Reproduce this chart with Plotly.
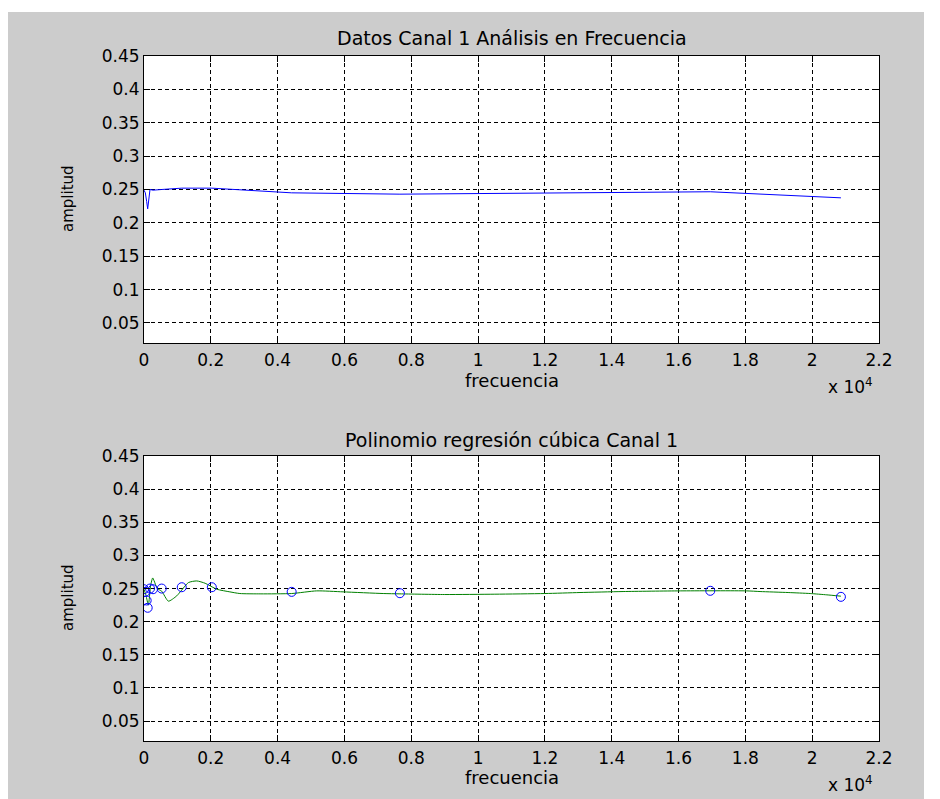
import plotly.graph_objects as go
from plotly.subplots import make_subplots

# measured data points (frequency in Hz, amplitude)
freq = [0, 40, 80, 110, 180, 270, 530, 1130, 2030, 4420, 7660, 16950, 20860]
amp = [0.249, 0.245, 0.232, 0.221, 0.250, 0.249, 0.250, 0.252, 0.252, 0.245, 0.243, 0.2466, 0.2375]

# cubic regression curve
fit_freq = [0, 60, 130, 200, 260, 300, 400, 530, 730, 980, 1330, 1580, 1830, 2180, 2570,
            2870, 3500, 4420, 5170, 5960, 7160, 7660, 9000, 10500, 12000, 13050, 14340,
            16050, 18040, 18440, 19280, 19940, 20440, 20860]
fit_amp = [0.249, 0.240, 0.225, 0.255, 0.266, 0.262, 0.250, 0.246, 0.231, 0.239, 0.259, 0.2615,
           0.258, 0.249, 0.245, 0.2425, 0.242, 0.2425, 0.2465, 0.245, 0.2425, 0.242, 0.241,
           0.2415, 0.2425, 0.244, 0.2455, 0.2465, 0.2465, 0.2455, 0.244, 0.2425, 0.2405, 0.2385]

x_tickvals = [0, 2000, 4000, 6000, 8000, 10000, 12000, 14000, 16000, 18000, 20000, 22000]
x_ticktext = ["0", "0.2", "0.4", "0.6", "0.8", "1", "1.2", "1.4", "1.6", "1.8", "2", "2.2"]
y_tickvals = [0.05, 0.1, 0.15, 0.2, 0.25, 0.3, 0.35, 0.4, 0.45]
y_ticktext = ["0.05", "0.1", "0.15", "0.2", "0.25", "0.3", "0.35", "0.4", "0.45"]

OFF = 8                      # page body margin
W, H = 916, 791              # figure size
L, R, T, B = 136, 45, 48, 58
pw, ph = W - L - R, H - T - B

def px_x(p):                 # page pixel -> paper x
    return (p - OFF - L) / pw

def px_y(p):                 # page pixel -> paper y
    return (H - B - (p - OFF)) / ph

fig = make_subplots(rows=2, cols=1)
fig.update_layout(
    yaxis=dict(domain=[px_y(343), 1.0]),
    yaxis2=dict(domain=[0.0, px_y(456)]),
)

fig.add_trace(go.Scatter(x=freq, y=amp, mode="lines",
                         line=dict(color="#0000ff", width=1), showlegend=False), row=1, col=1)
fig.add_trace(go.Scatter(x=fit_freq, y=fit_amp, mode="lines",
                         line=dict(color="#008000", width=1, shape="spline", smoothing=0.6),
                         showlegend=False), row=2, col=1)
fig.add_trace(go.Scatter(x=freq, y=amp, mode="markers",
                         marker=dict(symbol="circle-open", size=9, color="#0000ff",
                                     line=dict(width=1, color="#0000ff")),
                         showlegend=False), row=2, col=1)

font = "DejaVu Sans, Arial, sans-serif"
axis_common = dict(
    showline=True, linecolor="black", linewidth=1, mirror="ticks",
    ticks="inside", ticklen=6, tickcolor="black", tickwidth=1,
    showgrid=True, gridcolor="black", gridwidth=1, griddash="4px,3px",
    zeroline=False, tickfont=dict(family=font, size=17, color="black"),
)
for r in (1, 2):
    fig.update_xaxes(range=[0, 22000], tickvals=x_tickvals, ticktext=x_ticktext,
                     ticklabelstandoff=2, row=r, col=1, **axis_common)
    fig.update_yaxes(range=[0.02, 0.45], tickvals=y_tickvals, ticktext=y_ticktext,
                     row=r, col=1, **axis_common)

annotations = []
for text, ypx in (("Datos Canal 1 Análisis en Frecuencia", 38),
                  ("Polinomio regresión cúbica Canal 1", 440)):
    annotations.append(dict(text=text, x=0.5, y=px_y(ypx), xref="paper", yref="paper",
                            showarrow=False, xanchor="center", yanchor="middle",
                            font=dict(family=font, size=19, color="black")))
for ypx in (380, 778):
    annotations.append(dict(text="frecuencia", x=0.5, y=px_y(ypx), xref="paper", yref="paper",
                            showarrow=False, xanchor="center", yanchor="middle",
                            font=dict(family=font, size=18, color="black")))
for ypx in (199, 598):
    annotations.append(dict(text="amplitud", x=px_x(68), y=px_y(ypx), xref="paper", yref="paper",
                            showarrow=False, xanchor="center", yanchor="middle", textangle=-90,
                            font=dict(family=font, size=15, color="black")))
for ypx in (386, 784):
    annotations.append(dict(text="x 10<sup>4</sup>", x=px_x(826), y=px_y(ypx), xref="paper",
                            yref="paper", showarrow=False, xanchor="left", yanchor="middle",
                            font=dict(family=font, size=17, color="black")))

shapes = [
    dict(type="rect", xref="paper", yref="paper", x0=px_x(0), x1=px_x(960),
         y0=px_y(12), y1=px_y(0), fillcolor="white", line=dict(width=0), layer="below"),
]

fig.update_layout(
    width=W, height=H,
    margin=dict(l=L, r=R, t=T, b=B),
    paper_bgcolor="#cccccc", plot_bgcolor="white",
    annotations=annotations, shapes=shapes,
    font=dict(family=font, color="black"),
)

fig.write_html("out.html")
